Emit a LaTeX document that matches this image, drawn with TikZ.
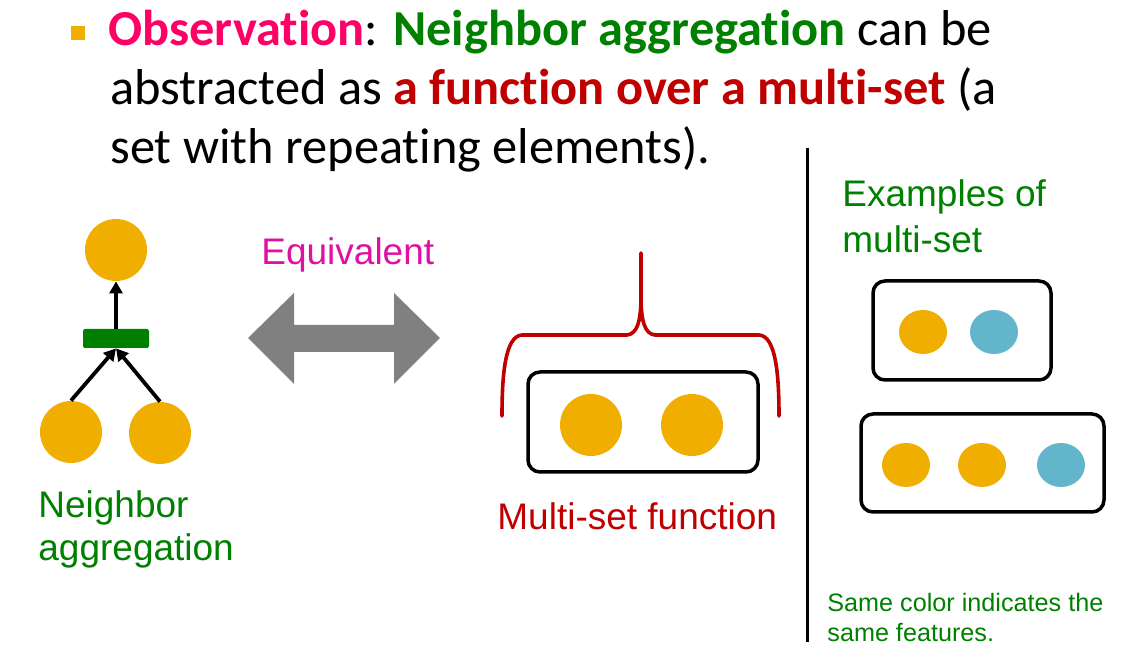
\documentclass[tikz,border=0pt]{standalone}
\usepackage{fontspec}
\setmainfont{Carlito}[Ligatures=NoCommon]
\newfontfamily\arialf{Liberation Sans}
\usetikzlibrary{arrows.meta,shapes.geometric}

\definecolor{obspink}{RGB}{255,0,102}
\definecolor{kgreen}{RGB}{0,128,0}
\definecolor{kred}{RGB}{192,0,0}
\definecolor{kmagenta}{RGB}{224,16,160}
\definecolor{dotorange}{RGB}{240,174,0}
\definecolor{featblue}{RGB}{99,181,204}
\definecolor{arrowgray}{RGB}{128,128,128}

\tikzset{
  bigtext/.style={anchor=base west, inner sep=0pt, font=\fontsize{25.2}{30}\selectfont},
  label/.style={anchor=base west, inner sep=0pt, font=\arialf\fontsize{18.5}{22}\selectfont},
  note/.style={anchor=base west, inner sep=0pt, font=\arialf\fontsize{12.6}{15}\selectfont, text=kgreen},
  dotc/.style={circle, fill=dotorange, draw=none, minimum size=31pt, inner sep=0pt},
  dote/.style={ellipse, draw=none, minimum width=24pt, minimum height=22pt, inner sep=0pt},
  setbox/.style={draw=black, line width=1.75pt, rounded corners=6pt, inner sep=0pt},
  aggbar/.style={rectangle, fill=kgreen, minimum width=33pt, minimum height=9.5pt, inner sep=0pt, rounded corners=0.8pt},
  arr/.style={line width=1.9pt, -{Triangle[length=6pt,width=6.5pt]}},
  brace/.style={kred, line width=1.8pt, line cap=round, line join=round},
}

\begin{document}
\begin{tikzpicture}[x=0.5pt, y=-0.5pt]
\useasboundingbox (0,0) rectangle (1148,667);

% ---- heading ----
\fill[dotorange] (71,26) rectangle (85,40);
\node[bigtext] (l1) at (108,46) {{\bfseries\color{obspink}Observation}: {\bfseries\color{kgreen}Neighbor aggregation} can be};
\node[bigtext] (l2) at (110,105) {abstracted as {\bfseries\color{kred}a function over a multi-set} (a};
\node[bigtext] (l3) at (110,164) {set with repeating elements).};

% ---- neighbour aggregation ----
\node[dotc] (top) at (116,250) {};
\node[aggbar] (agg) at (116,338.5) {};
\node[dotc] (nl) at (71,432) {};
\node[dotc] (nr) at (160,433) {};
\draw[arr] (agg.north) -- (top.south);
\draw[arr] (nl.north) -- (agg.south);
\draw[arr] (nr.north) -- (agg.south);
\node[label, text=kgreen] (nlab1) at (38,518) {Neighbor};
\node[label, text=kgreen] (nlab2) at (38,561) {aggregation};

% ---- equivalence arrow ----
\node[label, text=kmagenta] (eq) at (261,265) {Equivalent};
\fill[arrowgray] (248,338) -- (294,293) -- (294,325) -- (394,325) -- (394,293)
  -- (440,338) -- (394,384) -- (394,352) -- (294,352) -- (294,384) -- cycle;

% ---- multi-set function ----
\draw[brace]
  (502,416) .. controls (502,375) and (505,336) .. (522,335) -- (627,335)
  .. controls (637,334) and (641,322) .. (641,296) -- (641,253);
\draw[brace]
  (779,416) .. controls (779,375) and (776,336) .. (759,335) -- (655,335)
  .. controls (645,334) and (641,322) .. (641,296);
\node[setbox, minimum width=115pt, minimum height=50pt] (mbox) at (643,422) {};
\node[dotc] (m1) at (591,425) {};
\node[dotc] (m2) at (692,425) {};
\node[label, text=kred] (mlab) at (497,530) {Multi-set function};

% ---- separator ----
\coordinate (septop) at (807,148);
\coordinate (sepbot) at (807,642);
\draw[line width=1.5pt] (septop) -- (sepbot);

% ---- examples ----
\node[label, text=kgreen] (ex1) at (842,207) {Examples of};
\node[label, text=kgreen] (ex2) at (842,253) {multi-set};

\node[setbox, minimum width=89pt, minimum height=49.5pt] (boxa) at (962,330.5) {};
\node[dote, fill=dotorange] (a1) at (923,332) {};
\node[dote, fill=featblue] (a2) at (994,332) {};

\node[setbox, minimum width=121.5pt, minimum height=49pt] (boxb) at (982.5,463) {};
\node[dote, fill=dotorange] (b1) at (906,465) {};
\node[dote, fill=dotorange] (b2) at (982,465) {};
\node[dote, fill=featblue] (b3) at (1061,465) {};

\node[note] (n1) at (827,612) {Same color indicates the};
\node[note] (n2) at (827,642) {same features.};
\end{tikzpicture}
\end{document}
